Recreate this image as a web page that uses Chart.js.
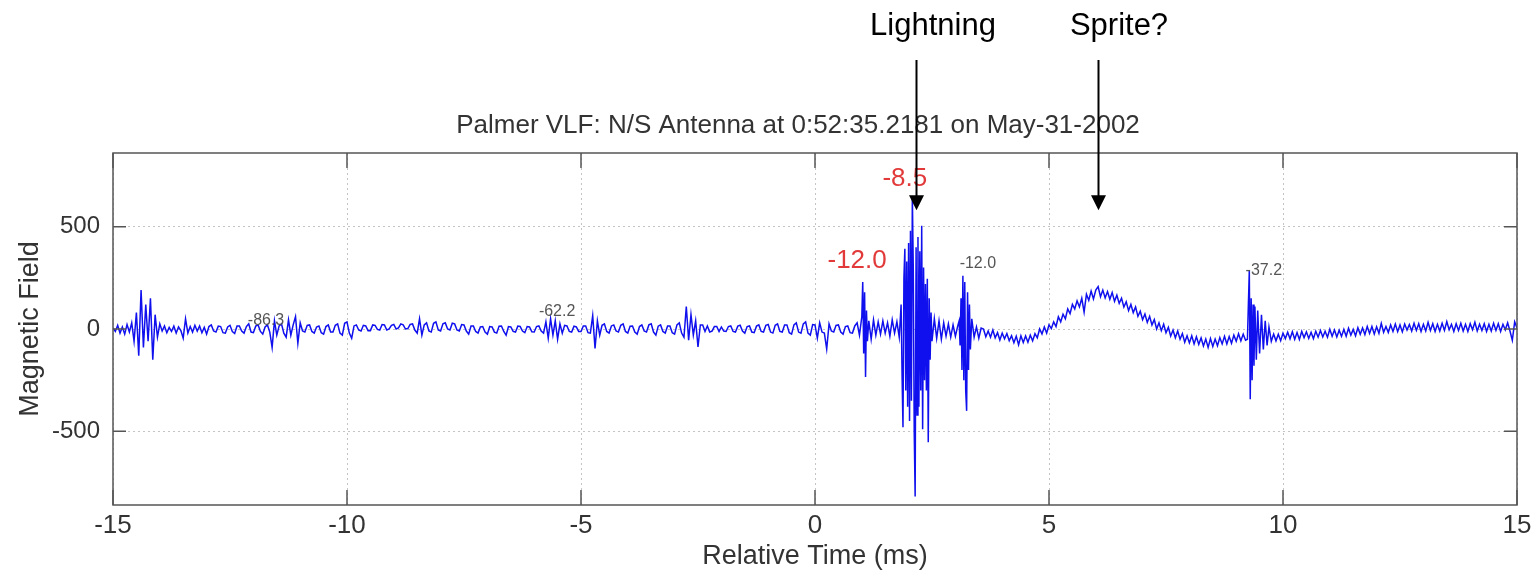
<!DOCTYPE html>
<html lang="en">
<head>
  <meta charset="UTF-8" />
  <title>Palmer VLF N/S Antenna</title>
  <script src="https://cdn.jsdelivr.net/npm/chart.js"></script>
  <style>
    html, body { margin: 0; padding: 0; background: #fff; }
    canvas { display: block; }
  </style>
</head>
<body>
  <canvas id="vlfChart" width="1539" height="574"></canvas>

<script>
  // quiet stretch before the strokes (ms / field)
  const quietTimes = [
    -15.0, -14.95, -14.9, -14.85, -14.8, -14.75, -14.7, -14.65, -14.6, -14.55,
    -14.5, -14.45, -14.4, -14.35, -14.3, -14.25, -14.2, -14.15, -14.1, -14.05,
    -14.0, -13.95, -13.9, -13.85, -13.8, -13.75, -13.7, -13.65, -13.6, -13.55,
    -13.5, -13.45, -13.4, -13.35, -13.3, -13.25, -13.2, -13.15, -13.1, -13.05,
    -13.0, -12.95, -12.9, -12.85, -12.8, -12.75, -12.7, -12.65, -12.6, -12.55,
    -12.5, -12.45, -12.4, -12.35, -12.3, -12.25, -12.2, -12.15, -12.1, -12.05,
    -12.0, -11.95, -11.9, -11.85, -11.8, -11.75, -11.7, -11.65, -11.6, -11.55,
    -11.5, -11.45, -11.4, -11.35, -11.3, -11.25, -11.2, -11.15, -11.1, -11.05,
    -11.0, -10.95, -10.9, -10.85, -10.8, -10.75, -10.7, -10.65, -10.6, -10.55,
    -10.5, -10.45, -10.4, -10.35, -10.3, -10.25, -10.2, -10.15, -10.1, -10.05,
    -10.0, -9.95, -9.9, -9.85, -9.8, -9.75, -9.7, -9.65, -9.6, -9.55,
    -9.5, -9.45, -9.4, -9.35, -9.3, -9.25, -9.2, -9.15, -9.1, -9.05,
    -9.0, -8.95, -8.9, -8.85, -8.8, -8.75, -8.7, -8.65, -8.6, -8.55,
    -8.5, -8.45, -8.4, -8.35, -8.3, -8.25, -8.2, -8.15, -8.1, -8.05,
    -8.0, -7.95, -7.9, -7.85, -7.8, -7.75, -7.7, -7.65, -7.6, -7.55,
    -7.5, -7.45, -7.4, -7.35, -7.3, -7.25, -7.2, -7.15, -7.1, -7.05,
    -7.0, -6.95, -6.9, -6.85, -6.8, -6.75, -6.7, -6.65, -6.6, -6.55,
    -6.5, -6.45, -6.4, -6.35, -6.3, -6.25, -6.2, -6.15, -6.1, -6.05,
    -6.0, -5.95, -5.9, -5.85, -5.8, -5.75, -5.7, -5.65, -5.6, -5.55,
    -5.5, -5.45, -5.4, -5.35, -5.3, -5.25, -5.2, -5.15, -5.1, -5.05,
    -5.0, -4.95, -4.9, -4.85, -4.8, -4.75, -4.7, -4.65, -4.6, -4.55,
    -4.5, -4.45, -4.4, -4.35, -4.3, -4.25, -4.2, -4.15, -4.1, -4.05,
    -4.0, -3.95, -3.9, -3.85, -3.8, -3.75, -3.7, -3.65, -3.6, -3.55,
    -3.5, -3.45, -3.4, -3.35, -3.3, -3.25, -3.2, -3.15, -3.1, -3.05,
    -3.0, -2.95, -2.9, -2.85, -2.8, -2.75, -2.7, -2.65, -2.6, -2.55,
    -2.5, -2.45, -2.4, -2.35, -2.3, -2.25, -2.2, -2.15, -2.1, -2.05,
    -2.0, -1.95, -1.9, -1.85, -1.8, -1.75, -1.7, -1.65, -1.6, -1.55,
    -1.5, -1.45, -1.4, -1.35, -1.3, -1.25, -1.2, -1.15, -1.1, -1.05,
    -1.0, -0.95, -0.9, -0.85, -0.8, -0.75, -0.7, -0.65, -0.6, -0.55,
    -0.5, -0.45, -0.4, -0.35, -0.3, -0.25, -0.2, -0.15, -0.1, -0.05,
    0.0, 0.05, 0.1, 0.15, 0.2, 0.25, 0.3, 0.35, 0.4, 0.45,
    0.5, 0.55, 0.6, 0.65, 0.7, 0.75, 0.8, 0.85, 0.9, 0.95
  ];
  const quietField = [
    5, -12, 18, -20, 10, -25, 22, -15, 30, -60,
    80, -130, 190, -90, 120, -60, 150, -150, 70, -40,
    25, -10, 15, -18, 8, -12, 14, -20, 10, -8,
    -45, 50, -20, 12, -15, 18, -10, 15, -18, 8,
    -25, 12, 20, -10, -15, 14, 12, -18, -20, 10,
    18, -12, -22, 15, 15, -10, -20, 12, 25, -15,
    -18, 14, 20, -12, -25, 10, 20, -15, -90, 40,
    -30, 15, 25, -20, -40, 45, -30, 20, 60, -70,
    30, -10, -15, 18, 20, -12, -20, 10, 15, -18,
    -25, 12, 20, -15, -15, 18, 25, -20, -30, 28,
    35, -20, -45, 15, 20, -5, -10, 18, 15, -8,
    -8, 20, 18, -2, -5, 22, 20, -5, 0, 18,
    22, 0, 5, 25, 20, 0, 2, 22, 25, -5,
    -20, 50, -30, 20, 30, -10, -15, 28, 35, -5,
    -10, 25, 30, 0, -5, 28, 25, -5, -10, 22,
    20, -10, -25, 15, 15, -12, -20, 10, 12, -15,
    -25, 12, 10, -15, -20, 14, 15, -12, -30, 12,
    10, -12, -15, 14, 12, -10, -18, 12, 10, -14,
    -15, 12, 15, -10, -20, 35, -45, 50, -30, 40,
    -50, 25, -20, 18, 15, -12, -15, 14, 10, -12,
    -12, 15, 15, -18, -20, 65, -95, 40, -30, 18,
    25, -12, -20, 15, 20, -10, -15, 18, 25, -12,
    -20, 14, 15, -15, -25, 12, 20, -10, -15, 20,
    25, -15, -30, 14, 20, -12, -20, 15, 15, -18,
    -25, 20, 30, -20, -40, 110, -55, 70, -30, 40,
    -88, 20, 20, -12, 15, -15, -10, 12, 12, -12,
    10, -10, -12, 12, 15, -12, -15, 14, 18, -10,
    -20, 12, 15, -15, -18, 14, 20, -12, -15, 18,
    22, -15, -20, 18, 25, -12, -15, 20, 20, -18,
    -25, 20, 30, -15, -20, 25, 35, -20, -30, 22,
    20, -45, 30, -15, -20, -98, 25, -10, -15, 18,
    20, -15, -25, 12, 15, -18, -20, 15, 30, -30
  ];

  // causative lightning and its neighbours
  const lightningTimes = [
    1.0, 1.02, 1.04, 1.06, 1.08, 1.1, 1.12, 1.15, 1.2, 1.25,
    1.3, 1.35, 1.4, 1.45, 1.5, 1.55, 1.6, 1.65, 1.7, 1.75,
    1.8, 1.84, 1.86, 1.88, 1.9, 1.92, 1.94, 1.96, 1.98, 2.0,
    2.02, 2.04, 2.06, 2.08, 2.1, 2.12, 2.14, 2.16, 2.18, 2.2,
    2.22, 2.24, 2.26, 2.28, 2.3, 2.32, 2.34, 2.36, 2.38, 2.4,
    2.42, 2.44, 2.46, 2.48, 2.5, 2.55, 2.6, 2.65, 2.7, 2.75,
    2.8, 2.85, 2.9, 2.95, 3.0, 3.05, 3.08, 3.1, 3.12, 3.14,
    3.16, 3.18, 3.2, 3.22, 3.24, 3.26, 3.28, 3.3, 3.32, 3.35,
    3.4, 3.45, 3.5, 3.55
  ];
  const lightningField = [
    60, 230, -120, 180, -235, 90, -60, 40, -50, 45,
    -30, 35, -25, 40, -20, 30, -35, 45, -20, 35,
    -40, 120, -220, -480, 250, 392, -300, 330, -380, 420,
    -450, 480, -350, 650, 300, -500, -818, 400, -420, 450,
    -380, 380, -300, 505, -490, 300, -250, 220, -300, 245,
    -553, 150, -150, 80, -60, 50, -45, 40, -50, 30,
    -35, 25, -40, 20, -35, 15, 40, -80, 150, -200,
    260, -250, 230, -300, -400, 180, -200, 120, -100, 50,
    -40, 10, -45, 5
  ];

  // slow sprite hump
  const spriteTimes = [
    3.6, 3.65, 3.7, 3.75, 3.8, 3.85, 3.9, 3.95, 4.0, 4.05,
    4.1, 4.15, 4.2, 4.25, 4.3, 4.35, 4.4, 4.45, 4.5, 4.55,
    4.6, 4.65, 4.7, 4.75, 4.8, 4.85, 4.9, 4.95, 5.0, 5.05,
    5.1, 5.15, 5.2, 5.25, 5.3, 5.35, 5.4, 5.45, 5.5, 5.55,
    5.6, 5.65, 5.7, 5.75, 5.8, 5.85, 5.9, 5.95, 6.0, 6.05,
    6.1, 6.15, 6.2, 6.25, 6.3, 6.35, 6.4, 6.45, 6.5, 6.55,
    6.6, 6.65, 6.7, 6.75, 6.8, 6.85, 6.9, 6.95, 7.0, 7.05,
    7.1, 7.15, 7.2, 7.25, 7.3, 7.35, 7.4, 7.45, 7.5, 7.55,
    7.6, 7.65, 7.7, 7.75, 7.8, 7.85, 7.9, 7.95, 8.0, 8.05,
    8.1, 8.15, 8.2, 8.25, 8.3, 8.35, 8.4, 8.45, 8.5, 8.55,
    8.6, 8.65, 8.7, 8.75, 8.8, 8.85, 8.9, 8.95, 9.0, 9.05,
    9.1, 9.15, 9.2
  ];
  const spriteField = [
    0, -38, -10, -40, -5, -43, -18, -54, -20, -48,
    -22, -57, -33, -67, -35, -77, -33, -66, -34, -65,
    -30, -58, -23, -43, 0, -24, 10, -20, 20, 2,
    35, 12, 60, 35, 72, 50, 98, 75, 120, 98,
    138, 108, 150, 82, 170, 140, 185, 147, 190, 207,
    157, 190, 152, 183, 145, 178, 135, 165, 125, 150,
    107, 133, 90, 120, 80, 108, 62, 87, 45, 73,
    32, 62, 20, 46, 0, 30, -8, 23, -18, 8,
    -35, -5, -43, -10, -50, -22, -65, -33, -68, -33,
    -73, -38, -75, -44, -83, -49, -90, -47, -85, -49,
    -82, -42, -73, -36, -73, -37, -70, -30, -60, -23,
    -58, -25, -55
  ];

  // later stroke and the tail
  const tailTimes = [
    9.24, 9.26, 9.28, 9.3, 9.32, 9.34, 9.36, 9.38, 9.4, 9.43,
    9.46, 9.5, 9.54, 9.58, 9.62, 9.66, 9.7, 9.75,
    9.8, 9.85, 9.9, 9.95, 10.0, 10.05, 10.1, 10.15, 10.2, 10.25,
    10.3, 10.35, 10.4, 10.45, 10.5, 10.55, 10.6, 10.65, 10.7, 10.75,
    10.8, 10.85, 10.9, 10.95, 11.0, 11.05, 11.1, 11.15, 11.2, 11.25,
    11.3, 11.35, 11.4, 11.45, 11.5, 11.55, 11.6, 11.65, 11.7, 11.75,
    11.8, 11.85, 11.9, 11.95, 12.0, 12.05, 12.1, 12.15, 12.2, 12.25,
    12.3, 12.35, 12.4, 12.45, 12.5, 12.55, 12.6, 12.65, 12.7, 12.75,
    12.8, 12.85, 12.9, 12.95, 13.0, 13.05, 13.1, 13.15, 13.2, 13.25,
    13.3, 13.35, 13.4, 13.45, 13.5, 13.55, 13.6, 13.65, 13.7, 13.75,
    13.8, 13.85, 13.9, 13.95, 14.0, 14.05, 14.1, 14.15, 14.2, 14.25,
    14.3, 14.35, 14.4, 14.45, 14.5, 14.55, 14.6, 14.65, 14.7, 14.75,
    14.8, 14.85, 14.9, 14.95, 15.0
  ];
  const tailField = [
    -50, 120, 284, -343, 150, -250, 120, -180, 110, -150,
    90, -120, 70, -100, 40, -80, 10, -60,
    -25, -58, -26, -57, -20, -47, -16, -48, -13, -50,
    -17, -51, -12, -42, -14, -46, -16, -47, -11, -40,
    -7, -39, -11, -40, -1, -35, -5, -39, -6, -36,
    -2, -35, 4, -30, -2, -33, 6, -26, 5, -27,
    12, -22, 12, -25, 11, -21, 28, -16, 12, -17,
    20, -12, 24, -13, 20, -14, 24, -5, 22, -10,
    28, -7, 26, -12, 23, -10, 33, -7, 26, -12,
    23, -10, 28, -7, 36, -4, 23, -12, 26, -7,
    28, -10, 23, -12, 26, -4, 33, -10, 23, -7,
    26, -12, 23, -10, 28, -7, 26, -12, 23, -4,
    30, -10, -55, 35, 5
  ];

  const timeTicks = [-15, -10, -5, 0, 5, 10, 15];
  const fieldTicks = [-500, 0, 500];

  // peak labels printed on the plot (text, time, field)
  const peakText  = ['-86.3', '-62.2', '-12.0', '-8.5', '-12.0', '-37.2'];
  const peakTimes = [-11.73, -5.51, 0.9, 1.92, 3.48, 9.59];
  const peakField = [39, 83, 333, 735, 318, 284];
  const peakBig   = [false, false, true, true, false, false];

  const FONT = "'Liberation Sans', Arial, Helvetica, sans-serif";

  function toPoints(ts, vs) {
    return ts.map((t, i) => ({ x: t, y: vs[i] }));
  }

  const points = [].concat(
    toPoints(quietTimes, quietField),
    toPoints(lightningTimes, lightningField),
    toPoints(spriteTimes, spriteField),
    toPoints(tailTimes, tailField)
  );

  // box, inward ticks, title, labels and arrows (matlab look)
  const matlabFrame = {
    id: 'matlabFrame',
    afterDraw(chart) {
      const { ctx, chartArea: a, scales: { x, y } } = chart;
      ctx.save();

      ctx.strokeStyle = '#555';
      ctx.lineWidth = 1.5;
      ctx.strokeRect(a.left, a.top, a.right - a.left, a.bottom - a.top);
      ctx.beginPath();
      timeTicks.forEach(t => {
        const px = x.getPixelForValue(t);
        ctx.moveTo(px, a.bottom); ctx.lineTo(px, a.bottom - 15);
        ctx.moveTo(px, a.top); ctx.lineTo(px, a.top + 15);
      });
      fieldTicks.forEach(v => {
        const py = y.getPixelForValue(v);
        ctx.moveTo(a.left, py); ctx.lineTo(a.left + 13, py);
        ctx.moveTo(a.right, py); ctx.lineTo(a.right - 13, py);
      });
      ctx.stroke();

      // title
      ctx.fillStyle = '#333';
      ctx.font = '26px ' + FONT;
      ctx.textAlign = 'center';
      ctx.textBaseline = 'middle';
      ctx.fillText('Palmer VLF: N/S Antenna at 0:52:35.2181 on May-31-2002', 798, 126);

      // peak values
      peakText.forEach((s, i) => {
        ctx.fillStyle = peakBig[i] ? '#e23a3a' : '#555';
        ctx.font = (peakBig[i] ? '26px ' : '16px ') + FONT;
        ctx.fillText(s, x.getPixelForValue(peakTimes[i]), y.getPixelForValue(peakField[i]));
      });

      // callouts
      ctx.fillStyle = '#000';
      ctx.strokeStyle = '#000';
      ctx.lineWidth = 2;
      ctx.font = '31px ' + FONT;
      [['Lightning', 2.15, 933], ['Sprite?', 6.05, 1119]].forEach(([label, t, tx]) => {
        ctx.fillText(label, tx, 26);
        const px = Math.round(x.getPixelForValue(t)) + 0.5;
        const tip = y.getPixelForValue(580);
        ctx.beginPath();
        ctx.moveTo(px, 60);
        ctx.lineTo(px, tip - 12);
        ctx.stroke();
        ctx.beginPath();
        ctx.moveTo(px - 7.5, tip - 15);
        ctx.lineTo(px + 7.5, tip - 15);
        ctx.lineTo(px, tip);
        ctx.closePath();
        ctx.fill();
      });

      ctx.restore();
    }
  };

  new Chart(document.getElementById('vlfChart').getContext('2d'), {
    type: 'scatter',
    data: {
      datasets: [{
        data: points,
        showLine: true,
        borderColor: '#1010ee',
        borderWidth: 1.5,
        pointRadius: 0,
        tension: 0
      }]
    },
    options: {
      responsive: false,
      animation: false,
      devicePixelRatio: 1,
      layout: { padding: { left: 0, right: 22, top: 153, bottom: 0 } },
      plugins: { legend: { display: false }, tooltip: { enabled: false } },
      scales: {
        x: {
          type: 'linear',
          min: -15,
          max: 15,
          afterBuildTicks: s => { s.ticks = timeTicks.map(v => ({ value: v })); },
          afterFit: s => { s.height = 69; },
          ticks: { color: '#333', font: { family: FONT, size: 26 }, padding: 5, maxRotation: 0 },
          grid: { color: '#c4c4c4', lineWidth: 1, drawTicks: false },
          border: { display: false, dash: [2, 3] },
          title: { display: true, text: 'Relative Time (ms)', color: '#333', font: { family: FONT, size: 27 }, padding: { top: 0, bottom: 1 } }
        },
        y: {
          min: -860,
          max: 860,
          afterBuildTicks: s => { s.ticks = fieldTicks.map(v => ({ value: v })); },
          afterFit: s => { s.width = 113; },
          ticks: { color: '#333', font: { family: FONT, size: 24 }, padding: 13 },
          grid: { color: '#c4c4c4', lineWidth: 1, drawTicks: false },
          border: { display: false, dash: [2, 3] },
          title: { display: true, text: 'Magnetic Field', color: '#333', font: { family: FONT, size: 27 }, padding: { top: 14, bottom: 0 } }
        }
      }
    },
    plugins: [matlabFrame]
  });
</script>
</body>
</html>
